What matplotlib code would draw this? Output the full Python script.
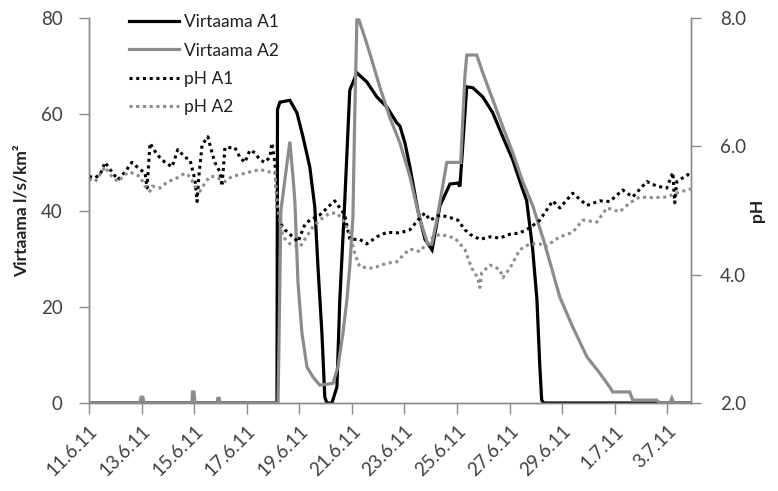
import matplotlib
matplotlib.use("Agg")
import matplotlib.pyplot as plt

plt.rcParams['font.family'] = ['Lato', 'DejaVu Sans']

# ---- data (x = days since 11.6.2011) ----
flow_a1_day = [0.00, 7.15, 7.17, 7.26, 7.64, 7.91, 8.14, 8.40, 8.59, 8.71, 8.86, 8.97, 9.05, 9.24,
               9.43, 9.54, 9.73, 9.92, 10.19, 10.57, 10.95, 11.33, 11.71, 11.83, 12.02, 12.21,
               12.51, 12.78, 13.05, 13.35, 13.73, 14.03, 14.11, 14.18, 14.37, 14.60, 14.98, 15.36,
               15.74, 16.12, 16.50, 16.65, 16.88, 17.04, 17.15, 17.22, 17.30, 22.89]
flow_a1 = [0, 0, 61, 62.5, 62.9, 60.3, 55.3, 49, 40.7, 28.3, 14.5, 1.2, 0, 0,
           3.3, 21.4, 42, 65, 68.6, 66.7, 63.6, 61.5, 58.2, 57.5, 54, 49,
           40, 34, 31.8, 41, 45.5, 45.7, 45, 50.5, 65.7, 65.5, 63.6, 60.3,
           55.3, 50.5, 44.3, 42, 31.8, 21.4, 7.5, 0.6, 0, 0]

flow_a2_day = [0.00, 1.94, 1.98, 2.05, 2.09, 3.92, 3.94, 3.99, 4.03, 4.87, 4.90, 4.95, 4.98,
               7.19, 7.22, 7.30, 7.64, 7.76, 7.83, 7.95, 8.10, 8.29, 8.52, 8.78, 9.28, 9.47,
               9.66, 9.81, 9.92, 10.04, 10.11, 10.19, 10.27, 10.49, 10.68, 11.06, 11.44, 11.83,
               12.21, 12.59, 12.89, 13.04, 13.23, 13.61, 14.03, 14.14, 14.30, 14.37, 14.75,
               14.98, 15.36, 15.74, 16.12, 16.50, 16.88, 17.34, 17.91, 18.40, 18.94, 19.43,
               19.81, 19.92, 20.57, 20.68, 21.60, 21.71, 22.09, 22.17, 22.24, 22.89]
flow_a2 = [0, 0, 1.2, 1.2, 0, 0, 2.3, 2.3, 0, 0, 1, 1, 0,
           0, 10, 40, 54.3, 47, 42, 25, 14.5, 7.5, 5.4, 3.7, 4.1, 7.5,
           14.5, 21.4, 28.3, 38.7, 60, 79.6, 79.6, 76, 72.7, 65.7, 59.4, 54,
           47, 38, 33, 33, 38, 50, 50, 50, 68, 72.3, 72.3,
           68.6, 63, 57.4, 52, 46, 41, 33, 22, 15.8, 9.6, 6.2,
           3.3, 2.3, 2.3, 0.6, 0.6, 0, 0, 1, 0, 0]

ph_a1_day = [0.00, 0.23, 0.42, 0.61, 0.80, 1.10, 1.37, 1.63, 1.94, 2.13, 2.21, 2.32, 2.59, 2.89,
             3.16, 3.38, 3.65, 3.84, 4.03, 4.11, 4.18, 4.30, 4.52, 4.68, 4.79, 4.98, 5.06, 5.17,
             5.55, 5.74, 5.93, 6.12, 6.31, 6.50, 6.69, 6.88, 6.96, 7.07, 7.19, 7.45, 7.64, 7.95,
             8.21, 8.40, 8.78, 9.16, 9.35, 9.54, 9.73, 9.92, 10.04, 10.30, 10.57, 10.95, 11.33,
             11.83, 12.21, 12.51, 12.78, 12.97, 13.35, 13.73, 14.03, 14.30, 14.49, 14.87, 15.25,
             15.63, 16.01, 16.39, 16.77, 17.15, 17.64, 17.91, 18.40, 18.94, 19.43, 19.81, 20.30,
             20.68, 21.22, 21.60, 21.98, 22.21, 22.28, 22.36, 22.78, 22.89]
ph_a1 = [5.53, 5.51, 5.56, 5.75, 5.64, 5.48, 5.60, 5.75, 5.64, 5.59, 5.35, 6.05, 5.87, 5.75,
         5.68, 5.95, 5.83, 5.79, 5.48, 5.14, 5.53, 6.02, 6.15, 5.90, 5.75, 5.60, 5.38, 5.98,
         5.98, 5.83, 5.75, 5.94, 5.90, 5.79, 5.75, 5.83, 6.05, 5.75, 4.85, 4.70, 4.63, 4.51,
         4.78, 4.85, 4.93, 5.08, 5.15, 5.04, 4.93, 4.55, 4.55, 4.55, 4.48, 4.59, 4.66,
         4.65, 4.70, 4.85, 4.96, 4.85, 4.93, 4.89, 4.85, 4.70, 4.63, 4.55, 4.59,
         4.57, 4.63, 4.65, 4.73, 4.85, 5.15, 5.04, 5.27, 5.08, 5.15, 5.14, 5.32,
         5.21, 5.45, 5.38, 5.35, 5.59, 5.12, 5.45, 5.56, 5.53]

ph_a2_day = [0.00, 0.23, 0.42, 0.61, 0.80, 1.10, 1.37, 1.56, 1.94, 2.13, 2.32, 2.40, 2.70, 3.00,
             3.27, 3.65, 3.84, 4.03, 4.22, 4.41, 4.60, 4.79, 5.17, 5.44, 5.74, 6.12, 6.50, 6.88,
             7.07, 7.19, 7.38, 7.64, 8.02, 8.21, 8.52, 8.78, 9.16, 9.43, 9.66, 9.92, 10.11, 10.30,
             10.80, 11.33, 11.71, 12.02, 12.21, 12.59, 12.97, 13.35, 13.92, 14.30, 14.56, 14.79,
             14.87, 14.94, 15.25, 15.63, 15.74, 16.01, 16.39, 16.77, 17.15, 17.34, 17.91, 18.40,
             18.78, 19.32, 19.70, 20.19, 20.57, 20.95, 21.44, 21.98, 22.47, 22.78, 22.89]
ph_a2 = [5.49, 5.45, 5.56, 5.68, 5.56, 5.45, 5.56, 5.60, 5.53, 5.38, 5.30, 5.38, 5.35, 5.45,
         5.49, 5.58, 5.53, 5.38, 5.30, 5.43, 5.53, 5.53, 5.45, 5.53, 5.56, 5.60, 5.64, 5.60,
         5.60, 5.00, 4.59, 4.48, 4.43, 4.55, 4.75, 4.85, 4.96, 4.96, 4.85, 4.65, 4.33, 4.12,
         4.10, 4.18, 4.20, 4.33, 4.40, 4.36, 4.55, 4.63, 4.57, 4.39, 4.10, 3.95,
         3.80, 4.03, 4.15, 4.08, 3.95, 4.10, 4.39, 4.48, 4.48, 4.43, 4.59, 4.66,
         4.85, 4.82, 5.04, 4.98, 5.12, 5.21, 5.20, 5.21, 5.29, 5.32, 5.34]

tick_days = [0, 2, 4, 6, 8, 10, 12, 14, 16, 18, 20, 22]
tick_labels = ['11.6.11', '13.6.11', '15.6.11', '17.6.11', '19.6.11', '21.6.11',
               '23.6.11', '25.6.11', '27.6.11', '29.6.11', '1.7.11', '3.7.11']

# ---- figure ----
fig = plt.figure(figsize=(7.78, 4.91), dpi=100)
ax = fig.add_axes([89/778, 1-403/491, (691-89)/778, (403-18)/491])
ax2 = ax.twinx()

black = '#000000'
grey = '#8c8c8c'
spine_c = '#8a8a8a'
text_c = '#404040'

l1, = ax.plot(flow_a1_day, flow_a1, color=black, lw=2.3, label='Virtaama A1', solid_joinstyle='miter')
l2, = ax.plot(flow_a2_day, flow_a2, color=grey, lw=2.3, label='Virtaama A2', solid_joinstyle='miter')
l3, = ax2.plot(ph_a1_day, ph_a1, color=black, lw=2.2, ls=(0, (1, 1.2)), label='pH A1')
l4, = ax2.plot(ph_a2_day, ph_a2, color=grey, lw=2.2, ls=(0, (1, 1.2)), label='pH A2')

ax.set_xlim(0, 22.9)
ax.set_ylim(0, 80)
ax2.set_ylim(2, 8)
ax.set_yticks([0, 20, 40, 60, 80])
ax2.set_yticks([2, 4, 6, 8])
ax2.set_yticklabels(['2.0', '4.0', '6.0', '8.0'])
ax.set_xticks(tick_days)
ax.set_xticklabels(tick_labels, rotation=45, ha='right', rotation_mode='anchor')

for a in (ax, ax2):
    a.spines['top'].set_visible(False)
    for s in ('left', 'right', 'bottom'):
        a.spines[s].set_color(spine_c)
        a.spines[s].set_linewidth(1.0)
ax.tick_params(axis='both', colors=spine_c, labelcolor=text_c, labelsize=13.5, width=1)
ax.tick_params(axis='y', length=7, pad=12)
ax.tick_params(axis='x', length=8, pad=6)
ax2.tick_params(axis='y', colors=spine_c, labelcolor=text_c, labelsize=13.5, length=7, width=1, pad=14)

ax.set_ylabel('Virtaama l/s/km²', fontsize=12.5, fontweight='bold', color='#202020', labelpad=8)
ax2.set_ylabel('pH', fontsize=12.5, fontweight='bold', color='#202020', rotation=90, labelpad=2)

leg = ax2.legend(handles=[l1, l2, l3, l4], loc='upper left', bbox_to_anchor=(0.04, 1.05),
                 frameon=False, fontsize=12.5, handlelength=2.9, labelspacing=0.7,
                 handletextpad=0.3)
for t in leg.get_texts():
    t.set_color('#202020')

fig.savefig('out.png', dpi=100)
